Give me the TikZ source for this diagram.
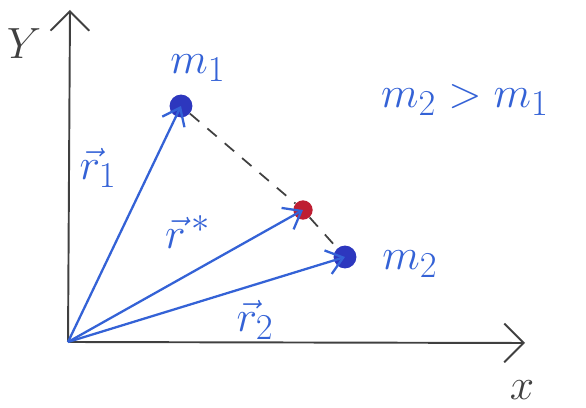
\documentclass[tikz,border=0pt]{standalone}
\usetikzlibrary{arrows.meta}
\definecolor{penblue}{RGB}{52,98,214}
\definecolor{dotblue}{RGB}{45,55,190}
\definecolor{dotred}{RGB}{190,30,50}
\begin{document}
\begin{tikzpicture}[x=0.02cm,y=-0.02cm,
  pen/.style={draw=penblue, line width=1.3pt},
  axis/.style={draw=black!75, line width=1.1pt, -{Straight Barb[length=11pt,width=22pt,line width=1.1pt]}},
  vec/.style={pen, -{Straight Barb[length=9pt,width=14pt,line width=1.3pt]}},
  mass/.style={circle, fill=dotblue, inner sep=0pt, minimum size=13pt},
  cmdot/.style={circle, fill=dotred, inner sep=0pt, minimum size=11pt},
  lab/.style={text=penblue, font=\Huge},
  axlab/.style={text=black!75, font=\Huge}]
\useasboundingbox (0,0) rectangle (586,408);
\coordinate (O) at (68,342);
\coordinate (ytip) at (70,10);
\coordinate (xtip) at (525,343);
\draw[axis] (O) -- (ytip);
\draw[axis] (O) -- (xtip);
\node[axlab] (ylab) at (24,44) {$Y$};
\node[axlab] (xlab) at (522,390) {$x$};
\node[mass] (m1) at (181,106) {};
\node[mass] (m2) at (345,257) {};
\node[cmdot] (rs) at (303,210) {};
\draw[black!75, line width=1pt, dash pattern=on 7pt off 6pt] (m1) -- (rs) -- (m2);
\draw[vec] (O) -- (m1.center);
\draw[vec] (O) -- (rs.center);
\draw[vec] (O) -- (m2.center);
\node[lab] (lm1) at (198,68) {$m_1$};
\node[lab] (lm2) at (410,264) {$m_2$};
\node[lab] (ineq) at (465,100) {$m_2 > m_1$};
\node[lab] (l1) at (98,168) {$\vec{r}_1$};
\node[lab] (ls) at (188,232) {$\vec{r}^{\,*}$};
\node[lab] (l2) at (255,320) {$\vec{r}_2$};
\end{tikzpicture}
\end{document}
